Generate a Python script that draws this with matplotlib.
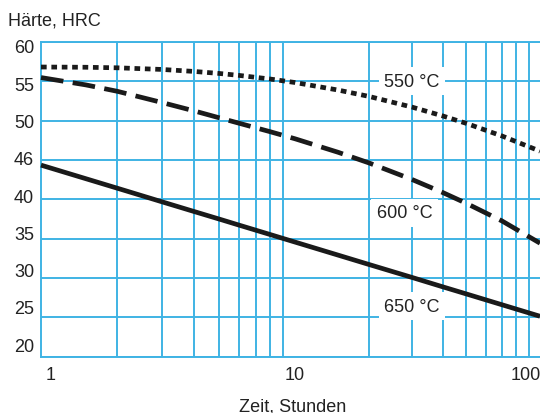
import numpy as np
import matplotlib
matplotlib.use('Agg')
import matplotlib.pyplot as plt
import matplotlib.transforms as mtransforms

# ===== DATI =====
# Zeit in Stunden (x, log) e Härte HRC (y)
t_hours = [1, 1.5, 2, 3, 4, 5, 6, 8, 10, 15, 20, 30, 40, 50, 70, 100]
hrc_550 = [56.82, 56.79, 56.72, 56.51, 56.26, 56.01, 55.76, 55.29, 54.85,
           53.89, 53.09, 51.73, 50.61, 49.66, 48.05, 46.13]
hrc_600 = [55.48, 54.55, 53.73, 52.30, 51.25, 50.39, 49.69, 48.59, 47.70,
           45.98, 44.64, 42.53, 40.88, 39.50, 37.25, 34.43]
hrc_650 = [44.35, 42.63, 41.41, 39.68, 38.46, 37.52, 36.74, 35.52, 34.57,
           32.91, 31.73, 30.08, 28.89, 27.98, 26.60, 25.14]

y_grid = [20, 25, 30, 35, 40, 45, 50, 55, 60]
y_labels = ['20', '25', '30', '35', '40', '46', '50', '55', '60']
x_grid = [1, 2, 3, 4, 5, 6, 7, 8, 9, 10, 20, 30, 40, 50, 60, 70, 80, 90, 100]
x_ticks = [1, 10, 100]
x_labels = ['1', '10', '100']

# ===== STILE =====
plt.rcParams['font.family'] = ['Liberation Sans', 'DejaVu Sans']
GRID_COL = '#3fb3e4'
TXT_COL = '#222222'
LINE_COL = '#1a1a1a'
FS = 13

# scala log con le due decadi leggermente diverse (come nella stampa originale)
D1, D2 = 254.0, 245.0


def fwd(x):
    lx = np.log10(np.clip(x, 1e-6, None))
    return np.where(lx <= 1, lx * D1, D1 + (lx - 1) * D2)


def inv(p):
    p = np.asarray(p, dtype=float)
    return np.where(p <= D1, 10 ** (p / D1), 10 ** (1 + (p - D1) / D2))


fig = plt.figure(figsize=(5.4, 4.14), dpi=100)
ax = fig.add_axes([41 / 540, 1 - 357.7 / 414, 1 - 41 / 540, (357.7 - 43) / 414])

ax.set_xscale('function', functions=(fwd, inv))
ax.set_xlim(1, 100)
ax.set_ylim(20, 60)

# griglia sui minor ticks, etichette sui major ticks (leggermente spostate come nell'originale)
ax.set_yticks(y_grid, minor=True)
ax.set_yticks([v - 0.5 + 0.052 * (60 - v) for v in y_grid])
ax.set_yticklabels(y_labels)
ax.set_xticks(x_grid, minor=True)
ax.set_xticks(x_ticks)
ax.set_xticklabels(x_labels)
ax.xaxis.set_minor_formatter(matplotlib.ticker.NullFormatter())
ax.yaxis.set_minor_formatter(matplotlib.ticker.NullFormatter())
ax.grid(False, which='major')
ax.grid(True, which='minor', color=GRID_COL, linewidth=1.4)
ax.tick_params(which='both', length=0)
ax.tick_params(axis='y', pad=5, labelsize=FS, labelcolor=TXT_COL)
ax.tick_params(axis='x', pad=7, labelsize=FS, labelcolor=TXT_COL)

# sposta la prima e l'ultima etichetta x
xl = ax.get_xticklabels()
xl[0].set_transform(xl[0].get_transform() + mtransforms.ScaledTranslation(9.5 / 100, 0, fig.dpi_scale_trans))
xl[-1].set_transform(xl[-1].get_transform() + mtransforms.ScaledTranslation(-14 / 100, 0, fig.dpi_scale_trans))

for s in ['left', 'bottom', 'top']:
    ax.spines[s].set_color(GRID_COL)
    ax.spines[s].set_linewidth(1.4)
ax.spines['right'].set_visible(False)

# curve
ax.plot(t_hours, hrc_550, color=LINE_COL, linewidth=3.4, dashes=(1.2, 1.0),
        dash_capstyle='butt', zorder=5, clip_on=False)
ax.plot(t_hours, hrc_600, color=LINE_COL, linewidth=3.4, dashes=(4.8, 2.0),
        dash_capstyle='butt', zorder=5, clip_on=False)
ax.plot(t_hours, hrc_650, color=LINE_COL, linewidth=3.4, solid_capstyle='butt',
        zorder=5, clip_on=False)

# etichette temperature
box = dict(boxstyle='square,pad=0.3', facecolor='white', edgecolor='none')
ax.text(30, 55, '550 °C', fontsize=FS, color=TXT_COL, ha='center', va='center', bbox=box, zorder=4)
ax.text(28, 38.3, '600 °C', fontsize=FS, color=TXT_COL, ha='center', va='center', bbox=box, zorder=4)
ax.text(30, 26.4, '650 °C', fontsize=FS, color=TXT_COL, ha='center', va='center', bbox=box, zorder=4)

fig.text(8 / 540, 1 - 20.7 / 414, 'Härte, HRC', fontsize=FS, color=TXT_COL, ha='left', va='center')
fig.text(293 / 540, 1 - 406.7 / 414, 'Zeit, Stunden', fontsize=FS, color=TXT_COL, ha='center', va='center')

fig.savefig('out.png', dpi=100)
